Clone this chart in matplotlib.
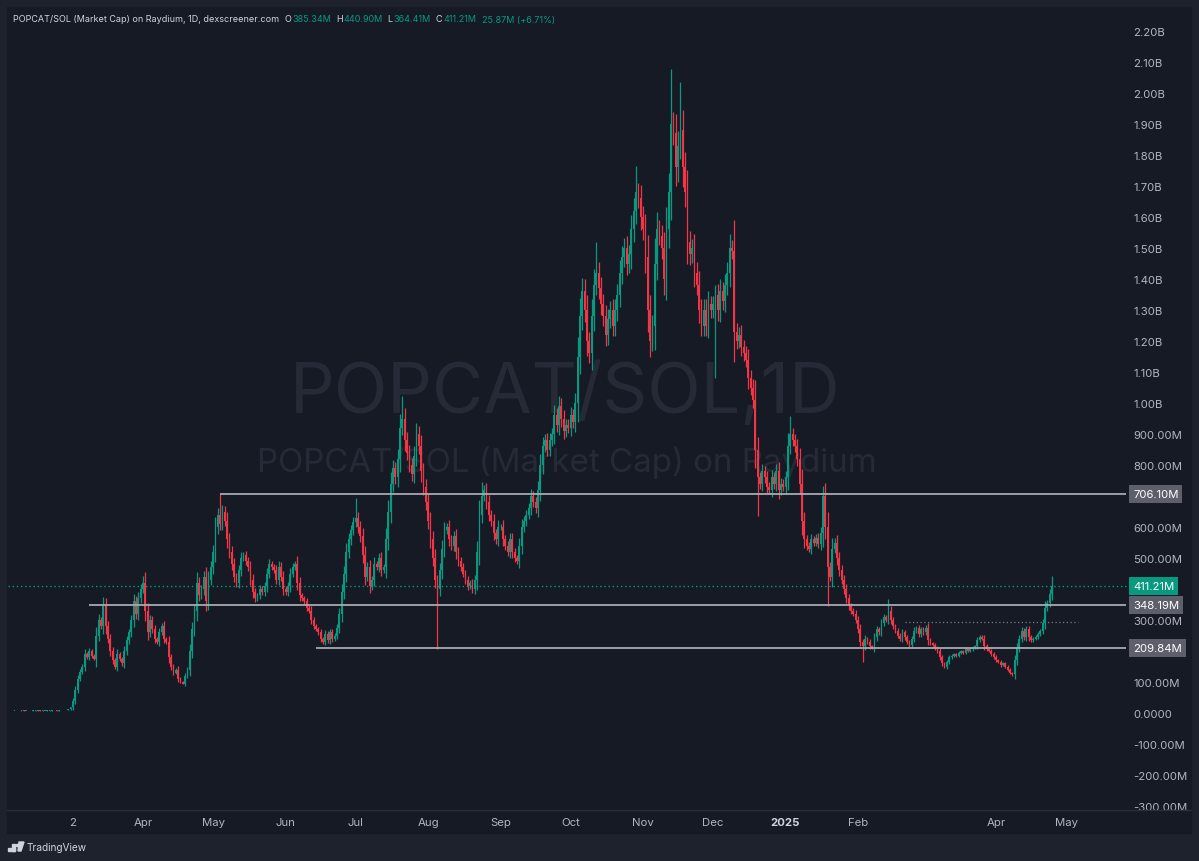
import numpy as np
import pandas as pd
import matplotlib
matplotlib.use("Agg")
import matplotlib.pyplot as plt
import matplotlib.dates as mdates
from matplotlib.patches import Rectangle, Polygon, Circle
from matplotlib.lines import Line2D

# daily closes in millions (open = previous close)
feb24 = [6, 6, 7, 7, 6, 7, 8, 7, 7, 6, 7, 8, 9, 8, 8, 7, 7, 8, 8, 9, 9, 8, 9, 10, 9, 10, 12]
mar24 = [18, 40, 75, 110, 132, 150, 190, 180, 200, 185, 175, 250, 300, 280, 345, 280, 240, 200,
         170, 150, 190, 175, 160, 200, 235, 260, 300, 360, 320, 370, 400]
apr24 = [420, 330, 260, 300, 270, 240, 230, 260, 280, 240, 230, 180, 150, 130, 140, 110, 100, 95,
         120, 140, 200, 270, 330, 420, 380, 400, 440, 360, 430, 470]
may24 = [520, 600, 640, 610, 650, 620, 560, 520, 480, 440, 420, 460, 500, 510, 490, 470, 430, 390,
         370, 380, 400, 390, 410, 450, 480, 470, 460, 430, 470, 440, 400]
jun24 = [390, 410, 450, 470, 480, 420, 380, 370, 360, 340, 330, 300, 280, 270, 260, 240, 230, 255,
         235, 260, 240, 250, 275, 320, 390, 450, 520, 560, 590, 615]
jul24 = [630, 600, 570, 510, 440, 470, 410, 430, 480, 470, 500, 460, 470, 560, 650, 740, 790, 760,
         820, 920, 950, 880, 840, 800, 770, 830, 900, 860, 780, 730, 680]
aug24 = [620, 560, 500, 430, 400, 460, 530, 590, 600, 560, 540, 570, 520, 490, 470, 450, 430, 410,
         420, 400, 430, 520, 640, 700, 720, 680, 640, 620, 580, 560, 600]
sep24 = [600, 560, 540, 520, 560, 520, 500, 490, 540, 600, 620, 640, 660, 700, 680, 660, 720, 800,
         860, 880, 850, 880, 900, 960, 930, 990, 950, 910, 930, 920]
oct24 = [960, 940, 1000, 1150, 1280, 1360, 1300, 1200, 1160, 1280, 1380, 1420, 1370, 1320, 1280,
         1220, 1270, 1300, 1250, 1300, 1350, 1420, 1470, 1500, 1450, 1480, 1560, 1620, 1680, 1660, 1600]
nov24 = [1560, 1470, 1300, 1200, 1250, 1450, 1560, 1540, 1500, 1400, 1560, 1680, 1900, 1870, 1760,
         1830, 1880, 1760, 1680, 1520, 1480, 1500, 1420, 1380, 1300, 1250, 1300, 1250, 1320, 1300]
dec24 = [1320, 1350, 1300, 1360, 1330, 1380, 1420, 1500, 1490, 1230, 1200, 1220, 1180, 1160, 1140,
         1080, 1050, 1010, 850, 760, 740, 780, 760, 730, 720, 760, 740, 780, 720, 740, 730]
jan25 = [760, 860, 900, 880, 860, 820, 740, 620, 560, 540, 530, 560, 550, 565, 545, 580, 700, 600,
         470, 440, 530, 550, 500, 460, 430, 400, 370, 345, 330, 320, 300]
feb25 = [270, 230, 215, 240, 230, 215, 210, 245, 270, 260, 290, 310, 300, 330, 300, 280, 265, 250,
         240, 260, 245, 230, 220, 240, 265, 275, 255, 270]
mar25 = [260, 275, 235, 225, 220, 210, 200, 180, 160, 150, 165, 180, 185, 190, 185, 195, 200, 195,
         205, 200, 205, 210, 215, 235, 245, 240, 215, 205, 200, 190, 180]
apr25 = [170, 165, 155, 160, 150, 140, 130, 125, 170, 210, 240, 265, 245, 270, 245, 235, 240, 245,
         255, 265, 290, 340, 355, 385.34, 411.21]

# notable wick extremes (millions)
wick_highs = {"2024-03-15": 375, "2024-04-01": 443, "2024-05-04": 706, "2024-07-01": 695,
              "2024-07-21": 1023, "2024-08-24": 745, "2024-10-12": 1519, "2024-10-29": 1765,
              "2024-11-13": 2077, "2024-11-17": 2035, "2025-01-03": 958, "2025-01-17": 732,
              "2025-02-14": 368, "2025-04-25": 440.90}
wick_lows = {"2024-08-05": 206, "2024-11-04": 1150, "2024-12-02": 1080, "2024-12-20": 635,
             "2025-01-19": 345, "2025-02-03": 165, "2025-04-08": 119, "2025-04-25": 364.41}

levels = [706.10, 348.19, 209.84]
level_starts = ["2024-05-04", "2024-03-09", "2024-06-14"]
last_price = 411.21
dotted_level = 293

tick_dates = ["2024-03-02", "2024-04-01", "2024-05-01", "2024-06-01", "2024-07-01", "2024-08-01",
              "2024-09-01", "2024-10-01", "2024-11-01", "2024-12-01", "2025-01-01", "2025-02-01",
              "2025-04-01", "2025-05-01"]
tick_labels = ["2", "Apr", "May", "Jun", "Jul", "Aug", "Sep", "Oct", "Nov", "Dec", "2025", "Feb",
               "Apr", "May"]

closes = np.array(feb24 + mar24 + apr24 + may24 + jun24 + jul24 + aug24 + sep24 + oct24 + nov24
                  + dec24 + jan25 + feb25 + mar25 + apr25, dtype=float)
dates = pd.date_range("2024-02-03", periods=len(closes), freq="D")
opens = np.r_[closes[0], closes[:-1]]
top = np.maximum(opens, closes)
bot = np.minimum(opens, closes)
body = top - bot
highs = top + 0.3 * body + 0.015 * top
lows = bot - 0.3 * body - 0.015 * bot
for d, v in wick_highs.items():
    highs[dates.get_loc(pd.Timestamp(d))] = v
for d, v in wick_lows.items():
    lows[dates.get_loc(pd.Timestamp(d))] = v

UP, DOWN = "#089981", "#f23645"
BG, FRAME = "#161a25", "#1e222d"
TXT = "#b2b5be"
FS = 8.2

plt.rcParams["font.family"] = ["Inter", "DejaVu Sans"]

W, H = 1199, 862
fig = plt.figure(figsize=(W / 100, H / 100), dpi=100, facecolor=FRAME)
fig.patches.append(Rectangle((7 / W, (H - 834) / H), (1191 - 7) / W, (834 - 8) / H,
                             transform=fig.transFigure, color=BG, zorder=-5))

ax = fig.add_axes([7 / W, (H - 811) / H, (1118 - 7) / W, (811 - 8) / H])
ax.set_facecolor("none")
for s in ax.spines.values():
    s.set_visible(False)

x = mdates.date2num(dates)
apr1 = mdates.date2num(pd.Timestamp("2024-04-01"))
ppd = 923 / 395.0  # pixels per day


def px2x(px):
    return apr1 + (px - 143) / ppd


ax.set_xlim(px2x(7), px2x(1118))
ax.set_ylim((714 - 811) / 0.31, (714 - 8) / 0.31)

cols = np.where(closes >= opens, UP, DOWN)
ax.vlines(x, lows, highs, colors=cols, linewidth=0.9, zorder=3)
ax.bar(x, np.maximum(body, 1.5), bottom=bot, width=0.75, color=cols, linewidth=0, zorder=4)

# watermark
ax.text(0.502, 0.4956, "POPCAT/SOL,1D", transform=ax.transAxes, ha="center", va="baseline",
        fontsize=50.5, color="#262a36", zorder=1)
ax.text(0.504, 0.422, "POPCAT/SOL (Market Cap) on Raydium", transform=ax.transAxes,
        ha="center", va="baseline", fontsize=23.8, color="#262a36", zorder=1)

# horizontal levels
xr = px2x(1126)
for lv, st in zip(levels, level_starts):
    ax.plot([mdates.date2num(pd.Timestamp(st)), xr], [lv, lv], color="#a7aab2", lw=1.3,
            clip_on=False, zorder=5, solid_capstyle="butt")
ax.plot([px2x(8), xr], [last_price, last_price], color=UP, lw=1.0, ls=(0, (1, 2)),
        clip_on=False, zorder=2)
ax.plot([px2x(905), px2x(1078)], [dotted_level, dotted_level], color="#787b86", lw=0.9,
        ls=(0, (1, 2)), zorder=2)

# y axis
yt = np.arange(-300, 2201, 100)
hidden = {200, 400, 700}  # covered by the price label boxes


def fmt(v):
    if v in hidden:
        return ""
    if v == 0:
        return "0.0000"
    if abs(v) >= 1000:
        return f"{v / 1000:.2f}B"
    return f"{v:.2f}M"


ax.set_yticks(yt)
ax.set_yticklabels([fmt(v) for v in yt])
ax.yaxis.tick_right()
ax.tick_params(axis="y", length=0, pad=11, labelsize=FS, labelcolor=TXT)

ax.set_xticks([mdates.date2num(pd.Timestamp(d)) for d in tick_dates])
ax.set_xticklabels(tick_labels)
ax.tick_params(axis="x", length=0, pad=5, labelsize=FS, labelcolor=TXT)
for lab in ax.get_xticklabels():
    if lab.get_text() == "2025":
        lab.set_fontweight("bold")
        lab.set_color("#d1d4dc")

# price label boxes
yax = ax.get_yaxis_transform()
for lv, fc in [(706.10, "#5d606b"), (last_price, UP), (348.19, "#5d606b"), (209.84, "#5d606b")]:
    ax.text(1.0 + 15 / 1111, lv, f"{lv:.2f}M", transform=yax, ha="left", va="center",
            fontsize=FS, color="white", zorder=20, clip_on=False,
            bbox=dict(boxstyle="square,pad=0.35", fc=fc, ec="none"))

# separator above date axis
fig.lines.append(Line2D([7 / W, 1191 / W], [(H - 811) / H] * 2, transform=fig.transFigure,
                        color="#2a2e39", lw=1.0))

# legend line
fig.canvas.draw()
rend = fig.canvas.get_renderer()
ty = (H - 20) / H
pieces = [("POPCAT/SOL (Market Cap) on Raydium, 1D, dexscreener.com", "#d1d4dc", 0),
          ("O", "#d1d4dc", 5), ("385.34M", UP, 1), ("H", "#d1d4dc", 5), ("440.90M", UP, 1),
          ("L", "#d1d4dc", 5), ("364.41M", UP, 1), ("C", "#d1d4dc", 5), ("411.21M", UP, 1),
          ("25.87M (+6.71%)", UP, 6)]
cx = 13 / W
for txt, c, gap in pieces:
    cx += gap / W
    t = fig.text(cx, ty, txt, color=c, fontsize=6.5, ha="left", va="center")
    cx = t.get_window_extent(rend).x1 / W

# TradingView footer
fig.patches.append(Rectangle((8 / W, (H - 852) / H), 7 / W, 3 / H, transform=fig.transFigure,
                             color="#d1d4dc"))
fig.patches.append(Rectangle((12 / W, (H - 852) / H), 3 / W, 7 / H, transform=fig.transFigure,
                             color="#d1d4dc"))
fig.patches.append(Circle((17.5 / W, (H - 846.5) / H), 1.5 / W, transform=fig.transFigure,
                          color="#d1d4dc"))
fig.patches.append(Polygon([(19 / W, (H - 843) / H), (24 / W, (H - 843) / H),
                            (21 / W, (H - 852) / H), (18 / W, (H - 852) / H)],
                           transform=fig.transFigure, color="#d1d4dc"))
fig.text(27 / W, (H - 848) / H, "TradingView", color="#d1d4dc", fontsize=7.3, ha="left",
         va="center")

fig.savefig("out.png", dpi=100, facecolor=FRAME)
